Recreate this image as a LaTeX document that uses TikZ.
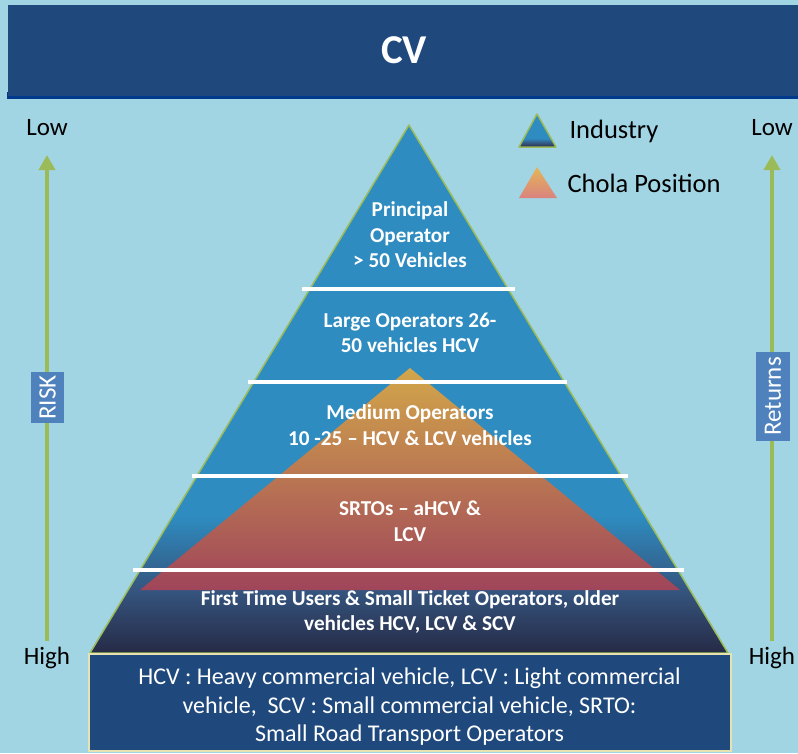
\documentclass[tikz,border=0pt]{standalone}
\usepackage{fontspec}
\setmainfont{Carlito}
\usetikzlibrary{arrows.meta}

\definecolor{bgblue}{HTML}{A2D5E4}
\definecolor{titleblue}{HTML}{1F497D}
\definecolor{shadowblue}{HTML}{003A8C}
\definecolor{indblue}{HTML}{2E8CC0}
\definecolor{indmid}{HTML}{35557F}
\definecolor{inddark}{HTML}{262A46}
\definecolor{cholatop}{HTML}{D2A64A}
\definecolor{cholabot}{HTML}{A0455A}
\definecolor{legtop}{HTML}{E6B556}
\definecolor{cholapink}{HTML}{D9837F}
\definecolor{arrowgreen}{HTML}{9BBB59}
\definecolor{tagblue}{HTML}{4F81BD}
\definecolor{boxedge}{HTML}{E6E2B2}

\pgfdeclareverticalshading{industry}{100bp}{color(0bp)=(inddark); color(25bp)=(inddark); color(31bp)=(indmid); color(38bp)=(indblue); color(100bp)=(indblue)}

\tikzset{
  lbl/.style={text=white, font=\bfseries\fontsize{21.2}{25.5}\selectfont, align=center},
  side/.style={font=\fontsize{25}{28}\selectfont, text=black},
  legtext/.style={font=\fontsize{26.5}{30}\selectfont, text=black, anchor=west},
  tag/.style={fill=tagblue, text=white, rotate=90, inner sep=0pt, font=\fontsize{25}{28}\selectfont},
  scalearrow/.style={draw=arrowgreen, line width=4pt, -{Triangle[width=16pt,length=15pt]}},
  divider/.style={draw=white, line width=4pt},
}

\begin{document}
\begin{tikzpicture}[x=1pt,y=-1pt]
    \fill[bgblue] (0,0) rectangle (798,753);
    \useasboundingbox (0,0) rectangle (798,753);

    % title bar
    \fill[shadowblue] (7,92) rectangle (798,99);
    \node[fill=titleblue, minimum width=793pt, minimum height=91pt, inner sep=0pt,
          text=white, font=\bfseries\fontsize{41}{44}\selectfont] (title) at (404,50) {CV};

    % pyramid
    \shade[shading=industry] (409,125) -- (728,653) -- (90,653) -- cycle;
    \draw[arrowgreen, line width=1.5pt, line join=round] (409,125) -- (728,653) -- (90,653) -- cycle;
    \shade[top color=cholatop, bottom color=cholabot] (410,368) -- (680,590) -- (140,590) -- cycle;

    \draw[divider] (302,289) -- (515,289);
    \draw[divider] (248,382) -- (567,382);
    \draw[divider] (192,476) -- (628,476);
    \draw[divider] (133,570) -- (684,570);

    \node[lbl] (principal) at (410,235) {Principal\\Operator\\> 50 Vehicles};
    \node[lbl] (large) at (410,333) {Large Operators 26-\\50 vehicles HCV};
    \node[lbl] (medium) at (410,425) {Medium Operators\\10 -25 – HCV \& LCV vehicles};
    \node[lbl] (srto) at (410,521) {SRTOs – aHCV \&\\LCV};
    \node[lbl] (first) at (410,612) {First Time Users \& Small Ticket Operators, older\\vehicles HCV, LCV \& SCV};

    \node[fill=titleblue, draw=boxedge, line width=2pt, minimum width=642pt, minimum height=97pt] (abbrev) at (409.5,702) {};
    \node[text=white, align=center, font=\fontsize{24}{28.5}\selectfont] (abbrevtext) at ([yshift=-5pt]abbrev.center)
          {HCV : Heavy commercial vehicle, LCV : Light commercial\\vehicle,\ \ SCV : Small commercial vehicle, SRTO:\\Small Road Transport Operators};

    % risk scale
    \node[side] (lowL) at (47,128) {Low};
    \node[side] (highL) at (47,658) {High};
    \coordinate (riskbot) at (47,641);
    \coordinate (risktop) at (47,155);
    \draw[scalearrow] (riskbot) -- (risktop);
    \node[tag, minimum width=51pt, minimum height=33pt] (risk) at (47.5,397.5) {RISK};

    % returns scale
    \node[side] (lowR) at (772,128) {Low};
    \node[side] (highR) at (772,658) {High};
    \coordinate (retbot) at (772,641);
    \coordinate (rettop) at (772,155);
    \draw[scalearrow] (retbot) -- (rettop);
    \node[tag, minimum width=89pt, minimum height=34pt] (returns) at (773,396.5) {Returns};

    % legend
    \shade[shading=industry] (537,114) -- (556,147) -- (519,147) -- cycle;
    \draw[arrowgreen, line width=1.5pt, line join=round] (537,114) -- (556,147) -- (519,147) -- cycle;
    \node[legtext] (industry) at (566,131) {Industry};
    \shade[top color=legtop, bottom color=cholapink] (537,167) -- (557,198) -- (519,198) -- cycle;
    \node[legtext] (chola) at (564,183) {Chola Position};
\end{tikzpicture}
\end{document}
